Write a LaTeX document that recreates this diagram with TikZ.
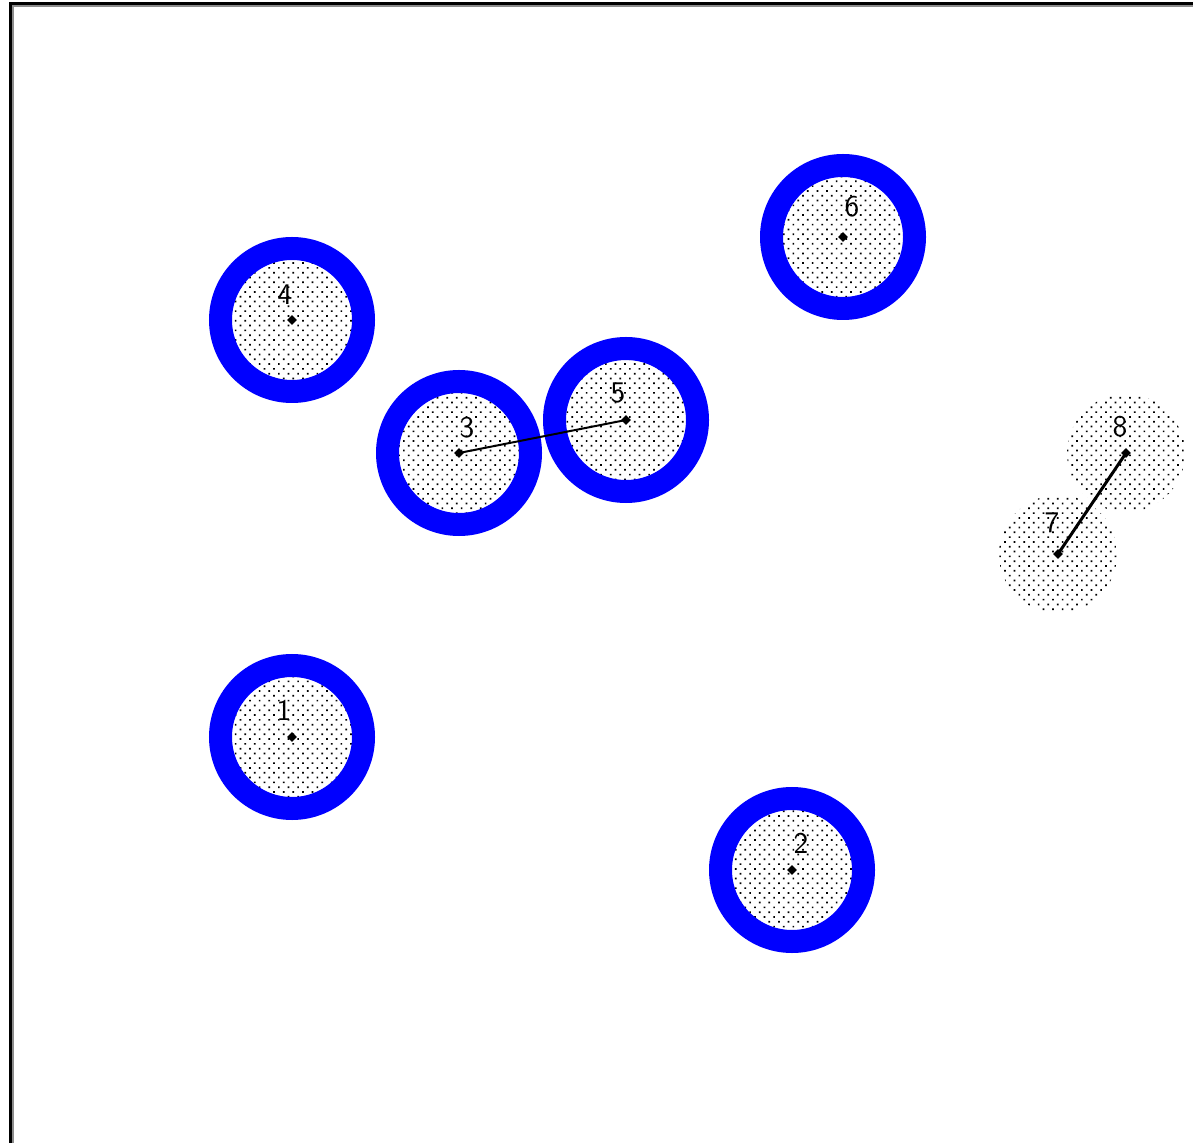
\documentclass[tikz,border=0pt]{standalone}
\usetikzlibrary{patterns.meta,shapes.geometric}
\tikzset{
  dotfill/.style={pattern={Dots[radius=0.6pt,distance=3.4pt,angle=45]},pattern color=black},
  ringnode/.style={circle,draw={rgb,255:red,0;green,0;blue,255},line width=11.5pt,minimum size=71.5pt,inner sep=0pt,dotfill},
  plainnode/.style={circle,minimum size=59pt,inner sep=0pt,dotfill},
  hub/.style={diamond,fill=black,inner sep=0pt,minimum size=5pt},
  numlabel/.style={font=\sffamily\fontsize{15}{15}\selectfont,inner sep=0pt},
  link/.style={draw=black,line width=1pt}
}
\begin{document}
\begin{tikzpicture}[x=0.5pt,y=-0.5pt]
\useasboundingbox (0,0) rectangle (1193,1143);
\fill[white] (0,0) rectangle (1193,1143);
% frame
\draw[black!45,line width=1pt] (13,1143) -- (13,6) -- (1193,6);
\draw[black,line width=1.5pt] (10.5,1143) -- (10.5,3.5) -- (1193,3.5);
% shaded discs
\node[plainnode] (c8) at (1126,453) {};
\node[plainnode] (c7) at (1058,554) {};
\node[ringnode] (c4) at (292,320) {};
\node[ringnode] (c6) at (843,237) {};
\node[ringnode] (c3) at (459,453) {};
\node[ringnode] (c5) at (626,420) {};
\node[ringnode] (c1) at (292,737) {};
\node[ringnode] (c2) at (792,870) {};
% links
\draw[link] (c3.center) -- (c5.center);
\draw[link,line width=1.5pt] (c7.center) -- (c8.center);
% hubs
\foreach \n in {1,...,8} \node[hub] (h\n) at (c\n.center) {};
% labels
\node[numlabel] (l1) at (284,710) {1};
\node[numlabel] (l2) at (801,843) {2};
\node[numlabel] (l3) at (467,428) {3};
\node[numlabel] (l4) at (285,295) {4};
\node[numlabel] (l5) at (618,393) {5};
\node[numlabel] (l6) at (852,207) {6};
\node[numlabel] (l7) at (1052,523) {7};
\node[numlabel] (l8) at (1120,427) {8};
\end{tikzpicture}
\end{document}
